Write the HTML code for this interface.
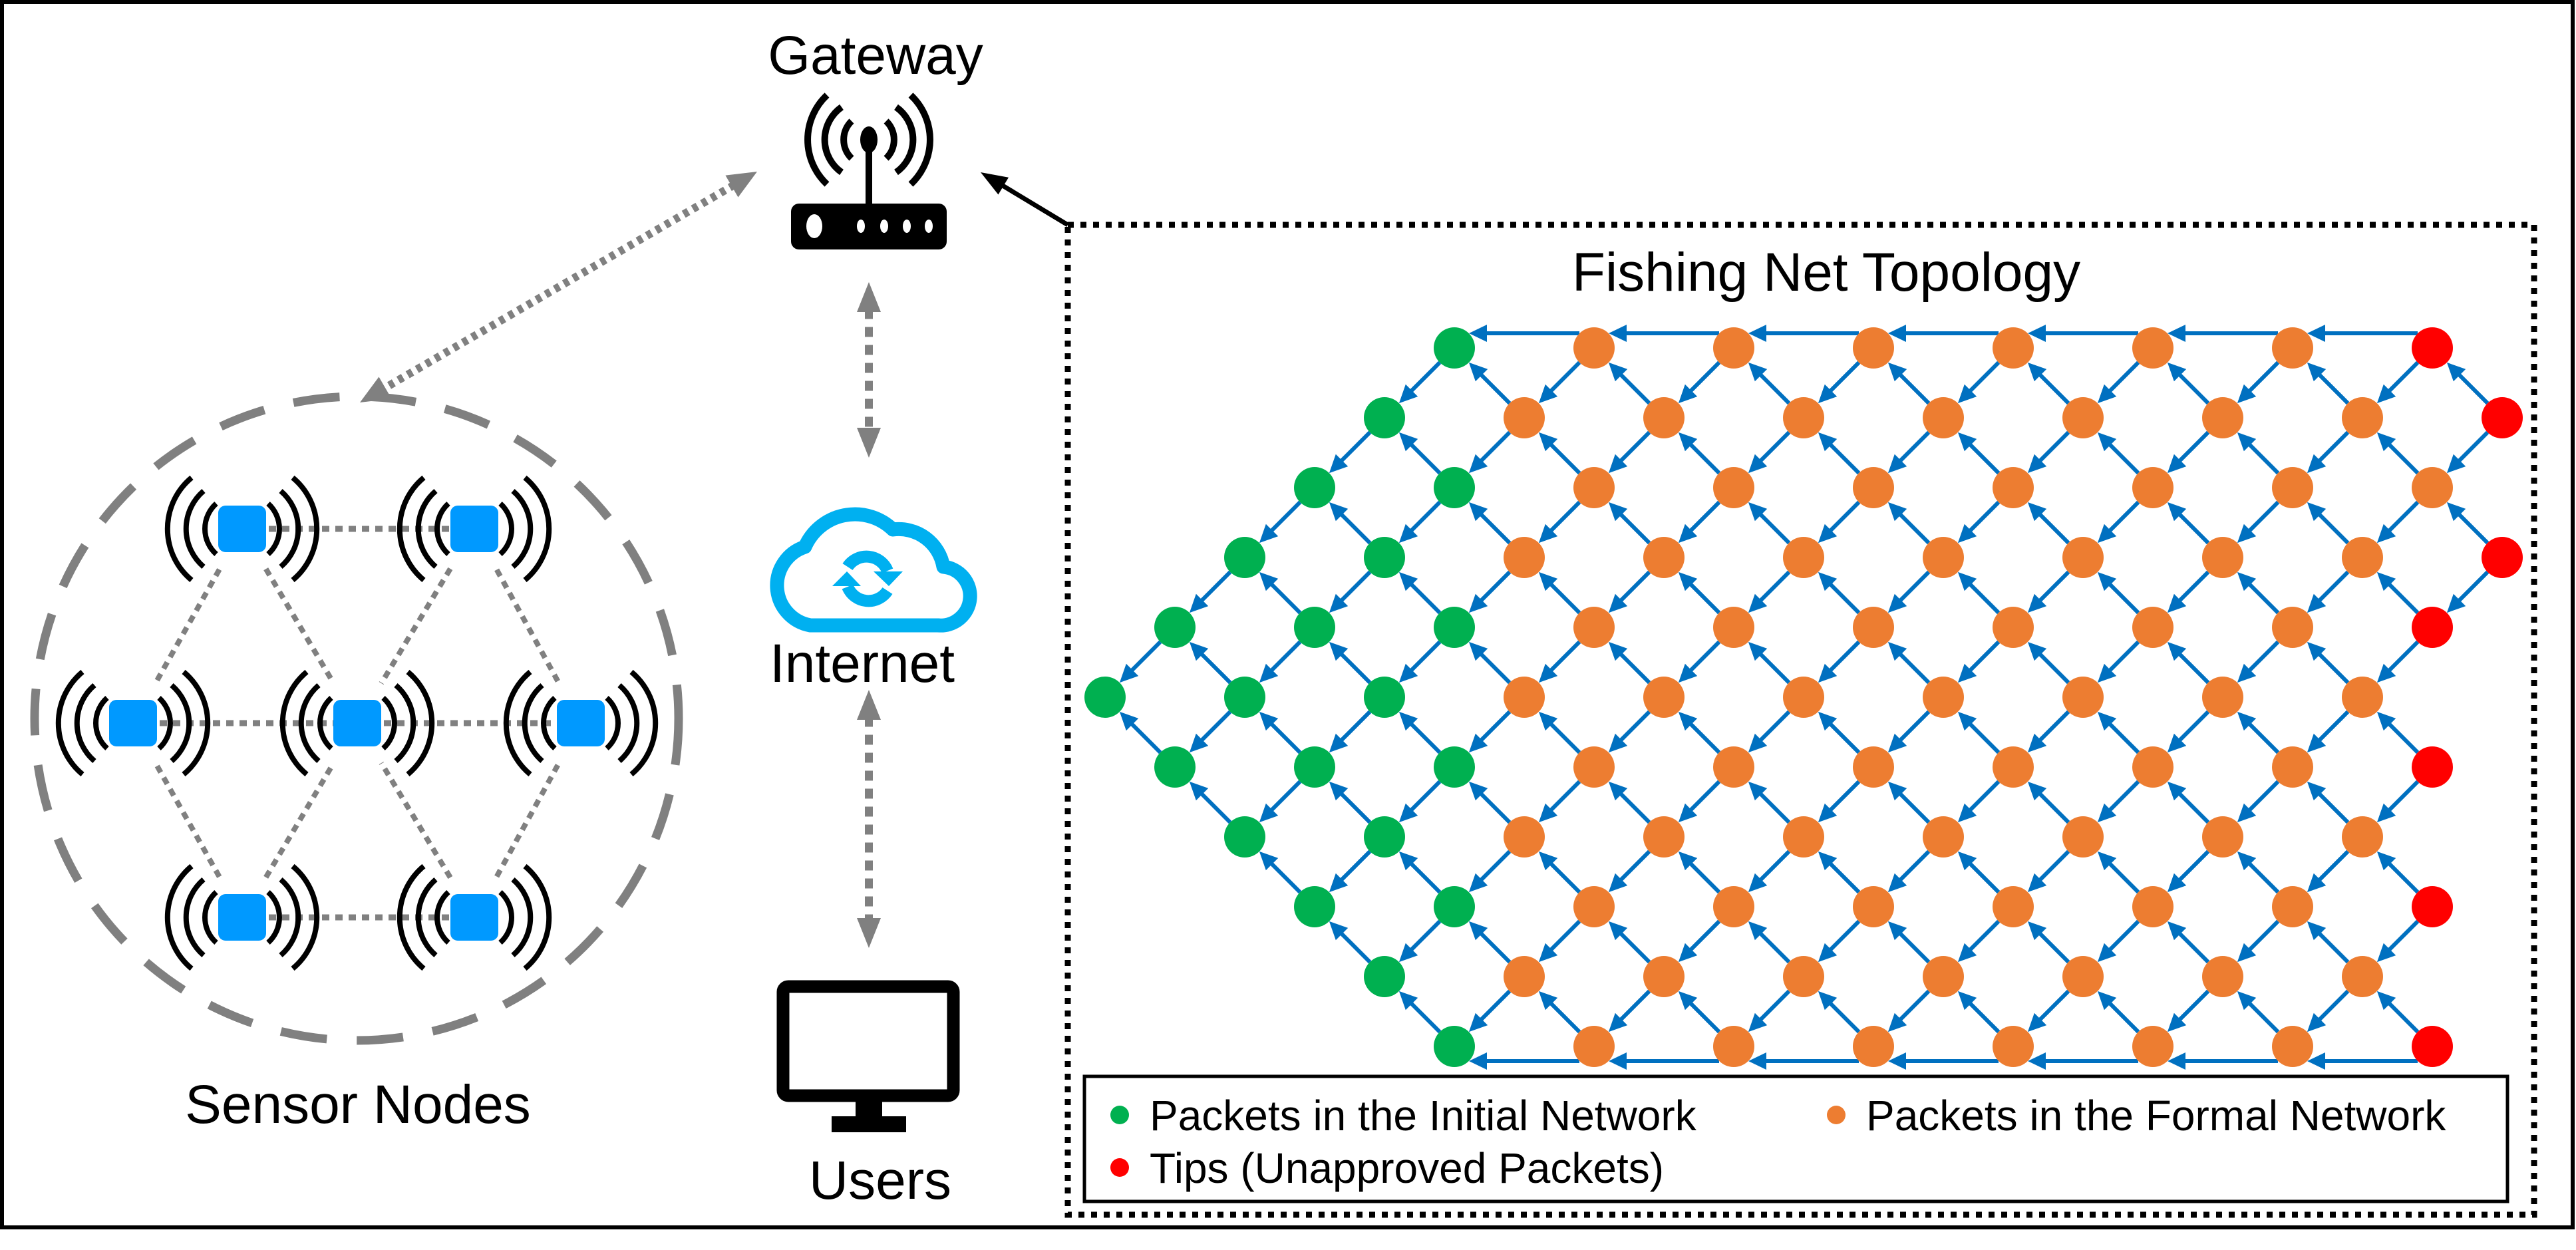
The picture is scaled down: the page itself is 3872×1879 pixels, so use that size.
<!DOCTYPE html>
<html><head><meta charset="utf-8">
<style>
html,body{margin:0;padding:0;background:#fff;}
svg{display:block;}
text{font-family:"Liberation Sans",Arial,sans-serif;fill:#000;}
</style></head>
<body>
<svg id="s" xmlns="http://www.w3.org/2000/svg" width="3872" height="1879" viewBox="0 0 3872 1879">
<rect x="0" y="0" width="3872" height="1879" fill="#fff"/>
<rect x="3" y="3" width="3864" height="1842" fill="none" stroke="#000" stroke-width="6"/>
<rect x="1605" y="338" width="2204" height="1488" fill="none" stroke="#000" stroke-width="9" stroke-dasharray="9 10"/>
<rect x="1630" y="1618" width="2139" height="188" fill="#fff" stroke="#000" stroke-width="5"/>
<circle cx="1683" cy="1676" r="14" fill="#00B050"/>
<circle cx="2760" cy="1676" r="14" fill="#ED7D31"/>
<circle cx="1683" cy="1755" r="14" fill="#FF0000"/>
<text x="1728" y="1699" font-size="64">Packets in the Initial Network</text>
<text x="2805" y="1699" font-size="64">Packets in the Formal Network</text>
<text x="1728" y="1778" font-size="64">Tips (Unapproved Packets)</text>
<text x="2745" y="437" font-size="82" text-anchor="middle">Fishing Net Topology</text>

<text x="1316" y="111" font-size="82" text-anchor="middle">Gateway</text>
<rect x="1301" y="208" width="10" height="100" fill="#000"/>
<ellipse cx="1306" cy="210" rx="13" ry="20" fill="#000"/>
<rect x="1189" y="306" width="234" height="69" rx="12" fill="#000"/>
<ellipse cx="1224" cy="340" rx="12" ry="18" fill="#fff"/>
<ellipse cx="1294" cy="340" rx="6" ry="10" fill="#fff"/>
<ellipse cx="1329" cy="340" rx="6" ry="10" fill="#fff"/>
<ellipse cx="1363" cy="340" rx="6" ry="10" fill="#fff"/>
<ellipse cx="1396" cy="340" rx="6" ry="10" fill="#fff"/>
<g fill="none" stroke="#000" stroke-width="10">
<path d="M1243,143 A92 92 0 0 0 1243,277"/>
<path d="M1265,161 A60 60 0 0 0 1265,259"/>
<path d="M1280,182 A39 39 0 0 0 1280,238"/>
<path d="M1369,143 A92 92 0 0 1 1369,277"/>
<path d="M1347,161 A60 60 0 0 1 1347,259"/>
<path d="M1332,182 A39 39 0 0 1 1332,238"/>
</g>

<path d="M1218,940 A61 61 0 0 1 1210,822 A82 82 0 0 1 1342,796 A68 68 0 0 1 1418,852 A44 44 0 0 1 1410,940 Z" fill="none" stroke="#00B0F0" stroke-width="21" stroke-linejoin="round"/>
<g fill="none" stroke="#00B0F0" stroke-width="18">
<path d="M1274,852 A34 34 0 0 1 1334,858"/>
<path d="M1334,888 A34 34 0 0 1 1274,882"/>
</g>
<polygon points="1313,859 1357,859 1336,881" fill="#00B0F0"/>
<polygon points="1251,881 1294,881 1273,859" fill="#00B0F0"/>
<text x="1296" y="1025" font-size="82" text-anchor="middle">Internet</text>

<rect x="1177" y="1483" width="256" height="164" rx="8" fill="#fff" stroke="#000" stroke-width="19"/>
<rect x="1286" y="1654" width="40" height="27" fill="#000"/>
<rect x="1250" y="1678" width="112" height="24" fill="#000"/>
<text x="1323" y="1802" font-size="82" text-anchor="middle">Users</text>

<circle cx="536" cy="1080" r="484" fill="none" stroke="#808080" stroke-width="13" stroke-dasharray="70 45"/>
<text x="538" y="1688" font-size="82" text-anchor="middle">Sensor Nodes</text>
<g id="sens"></g>
<g id="arr"></g>
<g id="net"></g>
</svg>
<script>
var NS="http://www.w3.org/2000/svg";
function el(p,tag,a){var e=document.createElementNS(NS,tag);for(var k in a)e.setAttribute(k,a[k]);p.appendChild(e);return e;}
function head(p,tx,ty,ux,uy,L,W,col){var bx=tx-ux*L,by=ty-uy*L,nx=-uy*W,ny=ux*W;
 el(p,'polygon',{points:tx+','+ty+' '+(bx+nx)+','+(by+ny)+' '+(bx-nx)+','+(by-ny),fill:col});}
function arrow(p,x1,y1,x2,y2,o){var dx=x2-x1,dy=y2-y1,l=Math.hypot(dx,dy),ux=dx/l,uy=dy/l;
 var sx=x1,sy=y1,ex=x2-ux*o.L*0.9,ey=y2-uy*o.L*0.9;
 if(o.both){sx=x1+ux*o.L*0.9;sy=y1+uy*o.L*0.9;}
 var a={x1:sx,y1:sy,x2:ex,y2:ey,stroke:o.col,'stroke-width':o.w};if(o.dash)a['stroke-dasharray']=o.dash;
 el(p,'line',a);head(p,x2,y2,ux,uy,o.L,o.W,o.col);if(o.both)head(p,x1,y1,-ux,-uy,o.L,o.W,o.col);}
var A=document.getElementById('arr');
arrow(A,1138,258,541,605,{col:'#808080',w:12,dash:'8 8',L:44,W:19,both:true});
arrow(A,1306,424,1306,688,{col:'#808080',w:12,dash:'15 12',L:45,W:18,both:true});
arrow(A,1306,1037,1306,1425,{col:'#808080',w:12,dash:'15 12',L:45,W:18,both:true});
arrow(A,1605,338,1474,259,{col:'#000',w:7,L:40,W:15});
var S=document.getElementById('sens');
var sn=[[364,795],[713,795],[200,1087],[537,1087],[873,1087],[364,1379],[713,1379]];
var links=[[0,1],[2,3],[3,4],[5,6]];
links.forEach(function(l){var a=sn[l[0]],b=sn[l[1]];el(S,'line',{x1:a[0],y1:a[1],x2:b[0],y2:b[1],stroke:'#808080','stroke-width':9,'stroke-dasharray':'11 9'});});
var dl=[[0,2],[0,3],[1,3],[1,4],[5,2],[5,3],[6,3],[6,4]];
dl.forEach(function(l){var a=sn[l[0]],b=sn[l[1]],dx=b[0]-a[0],dy=b[1]-a[1],L=Math.hypot(dx,dy),ux=dx/L,uy=dy/L,o=70;
 el(S,'line',{x1:a[0]+ux*o,y1:a[1]+uy*o,x2:b[0]-ux*o,y2:b[1]-uy*o,stroke:'#808080','stroke-width':8,'stroke-dasharray':'11 9'});});
var wv=[[112,77,36,100],[84,57,26,75],[56,38,17,51]];
sn.forEach(function(n){var cx=n[0],cy=n[1];
 wv.forEach(function(w){var d=w[0],h=w[1],b=w[2],R=w[3];
  var xl=cx-d+b,xr=cx+d-b;
  el(S,'path',{d:'M'+xl+','+(cy-h)+' A'+R+' '+R+' 0 0 0 '+xl+','+(cy+h),fill:'none',stroke:'#000','stroke-width':8});
  el(S,'path',{d:'M'+xr+','+(cy-h)+' A'+R+' '+R+' 0 0 1 '+xr+','+(cy+h),fill:'none',stroke:'#000','stroke-width':8});
 });
 el(S,'rect',{x:cx-36,y:cy-35,width:72,height:70,rx:11,fill:'#0099FF'});
});
var N=document.getElementById('net');
function X(i){return 1661+i*105;} function Y(j){return 523+j*105;}
function kind(i,j){if(i<0||j<0||j>10||i>20||((i+j)%2)==0)return null;
 if(i<=5)return i>=Math.abs(j-5)?'g':null;
 if(i<=18)return 'o';
 if(i==19)return j==2?'o':'r';
 if(i==20)return (j==1||j==3)?'r':null;return null;}
var col={g:'#00B050',o:'#ED7D31',r:'#FF0000'};
var B='#0070C0',r=31;
var ao={col:B,w:6,L:27,W:13};
for(var i=0;i<=20;i++)for(var j=0;j<=10;j++){if(!kind(i,j))continue;
 [-1,1].forEach(function(dj){if(kind(i-1,j+dj)){var x1=X(i),y1=Y(j),x2=X(i-1),y2=Y(j+dj);
  var dx=x2-x1,dy=y2-y1,l=Math.hypot(dx,dy),ux=dx/l,uy=dy/l;
  arrow(N,x1+ux*r,y1+uy*r,x2-ux*r,y2-uy*r,ao);}});
}
[0,10].forEach(function(j){var off=j==0?-22:22;
 for(var i=7;i<=19;i+=2){arrow(N,X(i)-22,Y(j)+off,X(i-2)+22,Y(j)+off,ao);}});
for(var i=0;i<=20;i++)for(var j=0;j<=10;j++){var k=kind(i,j);if(k)el(N,'circle',{cx:X(i),cy:Y(j),r:r,fill:col[k]});}
</script>
</body></html>
